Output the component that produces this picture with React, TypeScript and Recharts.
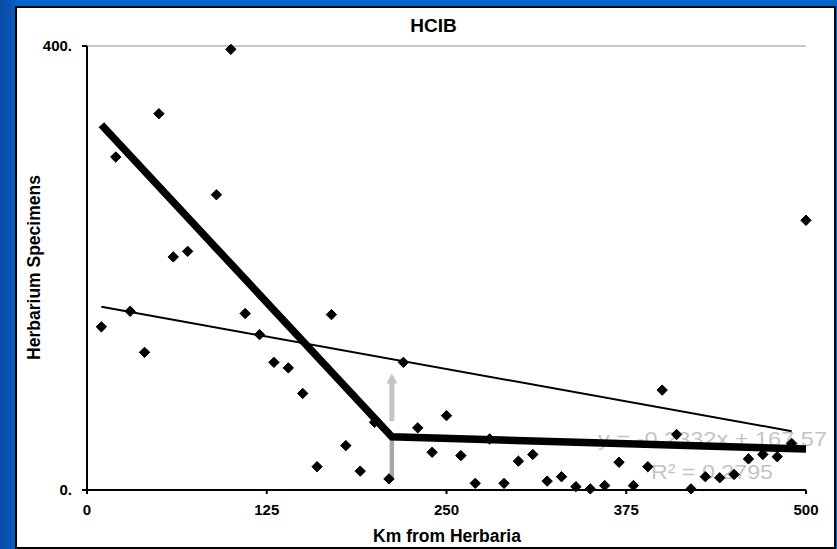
import React from 'react';
import { ScatterChart, Scatter, XAxis, YAxis, ReferenceLine, Customized } from 'recharts';

const kmFromHerbaria = [10, 20, 30, 40, 50, 60, 70, 90, 100, 110, 120, 130, 140, 150, 160, 170, 180, 190, 200, 210, 220, 230, 240, 250, 260, 270, 280, 290, 300, 310, 320, 330, 340, 350, 360, 370, 380, 390, 400, 410, 420, 430, 440, 450, 460, 470, 480, 490, 500];
const specimens = [147, 300, 161, 124, 339, 210, 215, 266, 397, 159, 140, 115, 110, 87, 21, 158, 40, 17, 61, 10, 115, 56, 34, 67, 31, 6, 46, 6, 26, 32, 8, 12, 3, 1, 4, 25, 4, 21, 90, 50, 1, 12, 11, 14, 28, 32, 30, 42, 243];

const trendX = [10, 490];
const trendY = [165, 53];
const brokenX = [10, 212, 500];
const brokenY = [329, 48, 37];
const arrowLowerX = [212, 212];
const arrowLowerY = [11, 45];
const arrowUpperX = [212, 212];
const arrowUpperY = [62, 97];
const arrowTip = [{ x: 212, y: 105 }];

const xTicks = [0, 125, 250, 375, 500];
const yTicks = [0, 400];

const title = 'HCIB';
const xLabel = 'Km from Herbaria';
const yLabel = 'Herbarium Specimens';
const eqText = 'y = -0.2332x + 167.57';
const r2Text = 'R² = 0.2795';

const points = kmFromHerbaria.map((x, i) => ({ x, y: specimens[i] }));
const trend = trendX.map((x, i) => ({ x, y: trendY[i] }));
const broken = brokenX.map((x, i) => ({ x, y: brokenY[i] }));
const arrowLower = arrowLowerX.map((x, i) => ({ x, y: arrowLowerY[i] }));
const arrowUpper = arrowUpperX.map((x, i) => ({ x, y: arrowUpperY[i] }));

const FONT = '"Liberation Sans", Arial, sans-serif';

const Diamond = (props: any) => {
  const { cx, cy } = props;
  const h = 5.2;
  return (
    <path
      d={`M${cx},${cy - h}L${cx + h},${cy}L${cx},${cy + h}L${cx - h},${cy}Z`}
      fill="#000"
      stroke="#000"
      strokeWidth={1}
      strokeLinejoin="round"
    />
  );
};

const Empty = () => <g />;

const ArrowHead = (props: any) => {
  const { cx, cy } = props;
  return <path d={`M${cx},${cy}L${cx + 5.5},${cy + 10}L${cx - 5.5},${cy + 10}Z`} fill="#c4c4c4" />;
};

const Texts = () => (
  <g>
    <text x={433.5} y={31.5} textAnchor="middle" fontFamily={FONT} fontWeight="bold" fontSize={19} fill="#000">
      {title}
    </text>
    <text x={447} y={541.5} textAnchor="middle" fontFamily={FONT} fontWeight="bold" fontSize={17.5} fill="#000">
      {xLabel}
    </text>
    <text
      x={40}
      y={267.5}
      textAnchor="middle"
      transform="rotate(-90, 40, 267.5)"
      fontFamily={FONT}
      fontWeight="bold"
      fontSize={17.5}
      fill="#000"
    >
      {yLabel}
    </text>
    <text x={598} y={445.5} fontFamily={FONT} fontSize={21} fill="#bdbdbd" fillOpacity={0.92} textLength={229} lengthAdjust="spacingAndGlyphs">
      {eqText}
    </text>
    <text x={651} y={478.5} fontFamily={FONT} fontSize={21} fill="#bdbdbd" fillOpacity={0.92} textLength={122} lengthAdjust="spacingAndGlyphs">
      {r2Text}
    </text>
  </g>
);

export default function App() {
  return (
    <div style={{ position: 'fixed', left: 0, top: 0, width: 837, height: 549, background: '#0066cc', overflow: 'hidden' }}>
      <div
        style={{
          position: 'absolute',
          left: 0,
          top: 0,
          width: 15,
          height: 549,
          background: 'linear-gradient(to right, #0a4aa6, #0b5cc0)',
        }}
      />
      <div
        style={{
          position: 'absolute',
          left: 15,
          top: 6,
          width: 821,
          height: 543,
          background: '#fff',
          border: '2px solid #000',
          boxSizing: 'border-box',
        }}
      />
      <div style={{ position: 'absolute', left: 0, top: 0 }}>
        <ScatterChart width={837} height={549} margin={{ top: 46, right: 31, bottom: 29, left: 0 }}>
          <XAxis
            type="number"
            dataKey="x"
            domain={[0, 500]}
            ticks={xTicks}
            interval={0}
            height={30}
            axisLine={{ stroke: '#000', strokeWidth: 2 }}
            tickLine={{ stroke: '#000', strokeWidth: 2 }}
            tickSize={4}
            tickMargin={10}
            tick={{ fill: '#000', fontFamily: FONT, fontWeight: 'bold', fontSize: 15 }}
          />
          <YAxis
            type="number"
            dataKey="y"
            domain={[0, 400]}
            ticks={yTicks}
            interval={0}
            width={87}
            axisLine={{ stroke: '#000', strokeWidth: 2 }}
            tickLine={{ stroke: '#000', strokeWidth: 2 }}
            tickSize={5}
            tickMargin={10}
            tickFormatter={(v: number) => `${v}.`}
            tick={{ fill: '#000', fontFamily: FONT, fontWeight: 'bold', fontSize: 15 }}
          />
          <ReferenceLine y={400} stroke="#c8c8c8" strokeWidth={2} />
          <Scatter data={arrowLower} line={{ stroke: '#a6a6a6', strokeWidth: 4.5 }} shape={Empty} isAnimationActive={false} />
          <Scatter data={arrowUpper} line={{ stroke: '#c4c4c4', strokeWidth: 5 }} shape={Empty} isAnimationActive={false} />
          <Scatter data={arrowTip} shape={ArrowHead} isAnimationActive={false} />
          <Scatter data={trend} line={{ stroke: '#000', strokeWidth: 2 }} shape={Empty} isAnimationActive={false} />
          <Scatter data={broken} line={{ stroke: '#000', strokeWidth: 7.5 }} shape={Empty} isAnimationActive={false} />
          <Scatter data={points} shape={Diamond} isAnimationActive={false} />
          <Customized component={Texts} />
        </ScatterChart>
      </div>
    </div>
  );
}
